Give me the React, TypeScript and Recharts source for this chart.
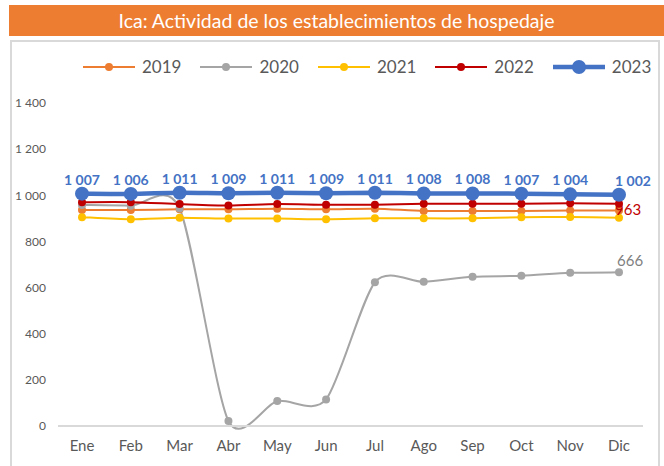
import React from "react";
import { LineChart, Line, XAxis, YAxis, LabelList } from "recharts";

const months = ["Ene", "Feb", "Mar", "Abr", "May", "Jun", "Jul", "Ago", "Sep", "Oct", "Nov", "Dic"];
const y2019 = [936, 936, 939, 939, 942, 939, 942, 932, 932, 932, 934, 934];
const y2020 = [958, 955, 943, 22, 108, 115, 623, 625, 647, 651, 664, 666];
const y2021 = [905, 896, 903, 899, 899, 896, 900, 900, 900, 905, 906, 903];
const y2022 = [970, 970, 962, 956, 962, 959, 959, 963, 963, 963, 965, 963];
const y2023 = [1007, 1006, 1011, 1009, 1011, 1009, 1011, 1008, 1008, 1007, 1004, 1002];
const yTicks = [0, 200, 400, 600, 800, 1000, 1200, 1400];

const series = [
  { key: "2019", values: y2019, color: "#ED7D31", width: 2, r: 4 },
  { key: "2020", values: y2020, color: "#A5A5A5", width: 2, r: 4 },
  { key: "2021", values: y2021, color: "#FFC000", width: 2, r: 4 },
  { key: "2022", values: y2022, color: "#C00000", width: 2, r: 4 },
  { key: "2023", values: y2023, color: "#4472C4", width: 4.5, r: 7 },
];

const data = months.map((m, i) => {
  const row: any = { month: m };
  series.forEach((s) => (row[s.key] = s.values[i]));
  return row;
});

const FONT = "Lato, 'Open Sans', sans-serif";
const fmt = (v: number) => String(v).replace(/\B(?=(\d{3})+(?!\d))/g, " ");

// suavizado tipo Excel (bezier con tension reducida)
function excelSmooth(context: any) {
  let pts: number[][] = [];
  const k = 0.13;
  return {
    areaStart() {},
    areaEnd() {},
    lineStart() {
      pts = [];
    },
    point(x: number, y: number) {
      pts.push([x, y]);
    },
    lineEnd() {
      if (!pts.length) return;
      context.moveTo(pts[0][0], pts[0][1]);
      for (let i = 0; i < pts.length - 1; i++) {
        const p0 = pts[Math.max(i - 1, 0)];
        const p1 = pts[i];
        const p2 = pts[i + 1];
        const p3 = pts[Math.min(i + 2, pts.length - 1)];
        context.bezierCurveTo(
          p1[0] + (p2[0] - p0[0]) * k,
          p1[1] + (p2[1] - p0[1]) * k,
          p2[0] - (p3[0] - p1[0]) * k,
          p2[1] - (p3[1] - p1[1]) * k,
          p2[0],
          p2[1]
        );
      }
    },
  };
}

const last = months.length - 1;

const blueLabel = (props: any) => {
  const { x, y, value, index } = props;
  return (
    <text
      x={x + (index === last ? 14 : 0)}
      y={y - 9}
      textAnchor="middle"
      fill="#4472C4"
      fontSize={14}
      fontWeight="bold"
      fontFamily={FONT}
    >
      {fmt(value)}
    </text>
  );
};

const redLabel = (props: any) => {
  const { x, y, value, index } = props;
  if (index !== last) return null;
  return (
    <text x={x - 4} y={y + 11} fill="#C00000" fontSize={15} fontFamily={FONT}>
      {fmt(value)}
    </text>
  );
};

const grayLabel = (props: any) => {
  const { x, y, value, index } = props;
  if (index !== last) return null;
  return (
    <text x={x - 2} y={y - 6} fill="#7F7F7F" fontSize={15} fontFamily={FONT}>
      {fmt(value)}
    </text>
  );
};

export default function App() {
  return (
    <div style={{ position: "fixed", left: 0, top: 0, width: 664, height: 466, background: "#fff", fontFamily: FONT }}>
      <div
        style={{
          position: "absolute",
          left: 9,
          top: 5,
          width: 655,
          height: 31,
          background: "#ED7D31",
          color: "#fff",
          fontSize: 19.5,
          fontWeight: 400,
          lineHeight: "31px",
          textAlign: "center",
        }}
      >
        Ica: Actividad de los establecimientos de hospedaje
      </div>
      <div
        style={{
          position: "absolute",
          left: 10,
          top: 40,
          width: 646,
          height: 430,
          border: "2px solid #D9D9D9",
        }}
      />
      <div
        style={{
          position: "absolute",
          left: 83,
          top: 56,
          display: "flex",
          alignItems: "center",
          gap: 19,
          fontSize: 17,
          color: "#595959",
        }}
      >
        {series.map((s) => (
          <div key={s.key} style={{ display: "flex", alignItems: "center", gap: 7 }}>
            <svg width={52} height={16}>
              <line x1={0} y1={8} x2={52} y2={8} stroke={s.color} strokeWidth={s.width} />
              <circle cx={26} cy={8} r={s.r} fill={s.color} />
            </svg>
            <span>{s.key}</span>
          </div>
        ))}
      </div>
      <div style={{ position: "absolute", left: 0, top: 0 }}>
        <LineChart width={664} height={466} data={data} margin={{ top: 103, right: 21, bottom: 10, left: 18 }}>
          <XAxis
            dataKey="month"
            padding={{ left: 24, right: 24 }}
            axisLine={{ stroke: "#D9D9D9", strokeWidth: 2 }}
            tickLine={false}
            tickMargin={8}
            tick={{ fill: "#595959", fontSize: 15, fontFamily: FONT }}
            height={30}
          />
          <YAxis
            domain={[0, 1400]}
            ticks={yTicks}
            axisLine={false}
            tickLine={false}
            width={40}
            tickMargin={6}
            tickFormatter={fmt}
            tick={{ fill: "#595959", fontSize: 12, fontFamily: FONT }}
          />
          {series.map((s) => (
            <Line
              key={s.key}
              dataKey={s.key}
              type={excelSmooth as any}
              stroke={s.color}
              strokeWidth={s.width}
              dot={{ r: s.r, fill: s.color, stroke: "none" }}
              activeDot={false}
              isAnimationActive={false}
            >
              {s.key === "2023" && <LabelList dataKey={s.key} content={blueLabel} />}
              {s.key === "2022" && <LabelList dataKey={s.key} content={redLabel} />}
              {s.key === "2020" && <LabelList dataKey={s.key} content={grayLabel} />}
            </Line>
          ))}
        </LineChart>
      </div>
    </div>
  );
}
